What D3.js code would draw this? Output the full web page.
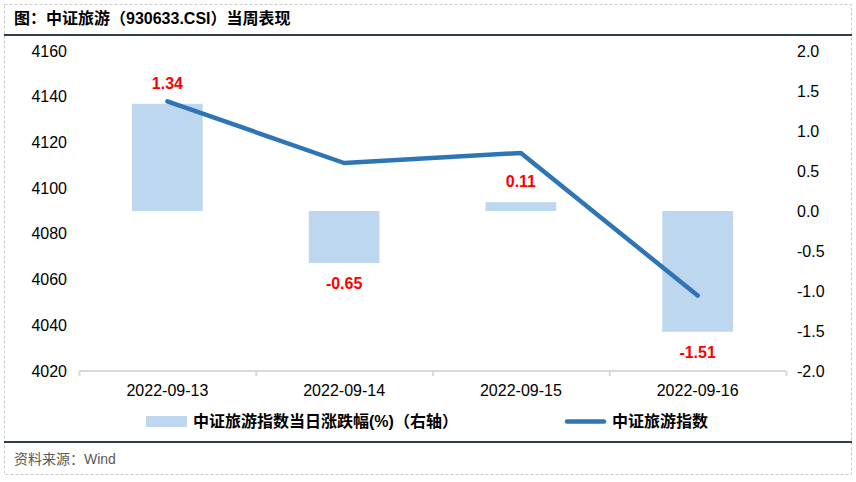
<!DOCTYPE html>
<html><head><meta charset="utf-8">
<script src="https://cdn.jsdelivr.net/npm/d3@7"></script>
<style>
html,body{margin:0;padding:0;background:#fff;}
svg{display:block;font-family:Arial,"Liberation Sans","Noto Sans CJK SC",sans-serif;}
</style></head>
<body>
<svg id="chart" width="856" height="482"></svg>
<script>
const dates = ["2022-09-13","2022-09-14","2022-09-15","2022-09-16"];
const indexValues = [4138, 4111, 4115.4, 4053];
const changeValues = [1.34, -0.65, 0.11, -1.51];
const leftTicks = [4020,4040,4060,4080,4100,4120,4140,4160];
const rightTicks = [-2.0,-1.5,-1.0,-0.5,0.0,0.5,1.0,1.5,2.0];
const titleText = "图：中证旅游（930633.CSI）当周表现";
const sourceText = "资料来源：Wind";
const legendBar = "中证旅游指数当日涨跌幅(%)（右轴）";
const legendLine = "中证旅游指数";

const svg = d3.select("#chart");
const plot = {left:79, right:786, top:51, bottom:371};

// frame
svg.append("rect").attr("x",4.5).attr("y",4.5).attr("width",847).attr("height",470)
  .attr("fill","none").attr("stroke","#c8c8c8").attr("stroke-dasharray","3,2");
svg.append("line").attr("x1",4).attr("x2",852).attr("y1",35).attr("y2",35)
  .attr("stroke","#2f3e4c").attr("stroke-width",2);
svg.append("line").attr("x1",4).attr("x2",852).attr("y1",442).attr("y2",442)
  .attr("stroke","#2f3e4c").attr("stroke-width",2);
svg.append("text").attr("x",14).attr("y",24).attr("font-size",16).attr("font-weight","bold")
  .attr("fill","#000").text(titleText);
svg.append("text").attr("x",14).attr("y",464).attr("font-size",14)
  .attr("fill","#595959").text(sourceText);

const x = d3.scaleBand().domain(dates).range([plot.left, plot.right]).paddingInner(0.6).paddingOuter(0.3);
const yL = d3.scaleLinear().domain([4020,4160]).range([plot.bottom, plot.top]);
const yR = d3.scaleLinear().domain([-2,2]).range([plot.bottom, plot.top]);

// bars
svg.append("g").selectAll("rect").data(dates).join("rect")
  .attr("x", d => x(d))
  .attr("width", x.bandwidth())
  .attr("y", (d,i) => Math.min(yR(0), yR(changeValues[i])))
  .attr("height", (d,i) => Math.abs(yR(changeValues[i]) - yR(0)))
  .attr("fill","#bdd7ee");

// x axis
const xAxis = d3.axisBottom(d3.scalePoint().domain(d3.range(dates.length+1)).range([plot.left, plot.right]))
  .tickSize(5).tickFormat("");
const gx = svg.append("g").attr("transform",`translate(0,${plot.bottom})`).call(xAxis);
gx.select(".domain").attr("stroke","#d9d9d9").attr("stroke-width",2).attr("d",`M${plot.left},0H${plot.right}`);
gx.selectAll(".tick line").attr("stroke","#d9d9d9").attr("stroke-width",2);
svg.append("g").selectAll("text").data(dates).join("text")
  .attr("x", d => x(d) + x.bandwidth()/2).attr("y", 396)
  .attr("text-anchor","middle").attr("font-size",16).attr("fill","#000").text(d => d);

// left axis
const gl = svg.append("g").attr("transform",`translate(${plot.left},0)`)
  .call(d3.axisLeft(yL).tickValues(leftTicks).tickSize(0).tickPadding(12).tickFormat(d => String(d)));
gl.select(".domain").remove();
gl.selectAll("text").attr("font-size",16).attr("fill","#000").attr("font-family",null);

// right axis
const gr = svg.append("g").attr("transform",`translate(${plot.right},0)`)
  .call(d3.axisRight(yR).tickValues(rightTicks).tickSize(0).tickPadding(11).tickFormat(d => d.toFixed(1)));
gr.select(".domain").remove();
gr.selectAll("text").attr("font-size",16).attr("fill","#000").attr("font-family",null);

// line
const line = d3.line().x((d,i) => x(dates[i]) + x.bandwidth()/2).y(d => yL(d));
svg.append("path").datum(indexValues).attr("d", line)
  .attr("fill","none").attr("stroke","#2e75b6").attr("stroke-width",4.5)
  .attr("stroke-linecap","round").attr("stroke-linejoin","round");

// data labels
svg.append("g").selectAll("text").data(dates).join("text")
  .attr("x", d => x(d) + x.bandwidth()/2)
  .attr("y", (d,i) => changeValues[i] >= 0 ? yR(changeValues[i]) - 15 : yR(changeValues[i]) + 26)
  .attr("text-anchor","middle").attr("font-size",16).attr("font-weight","bold")
  .attr("fill","#ff0000").text((d,i) => changeValues[i].toFixed(2));

// legend
const lg = svg.append("g");
lg.append("rect").attr("x",146).attr("y",416).attr("width",41).attr("height",11).attr("fill","#bdd7ee");
lg.append("text").attr("x",193).attr("y",427).attr("font-size",16).attr("font-weight","bold").attr("fill","#000").text(legendBar);
lg.append("line").attr("x1",567).attr("x2",604).attr("y1",421.5).attr("y2",421.5)
  .attr("stroke","#2e75b6").attr("stroke-width",4.5).attr("stroke-linecap","round");
lg.append("text").attr("x",612).attr("y",427).attr("font-size",16).attr("font-weight","bold").attr("fill","#000").text(legendLine);
</script>
</body></html>
